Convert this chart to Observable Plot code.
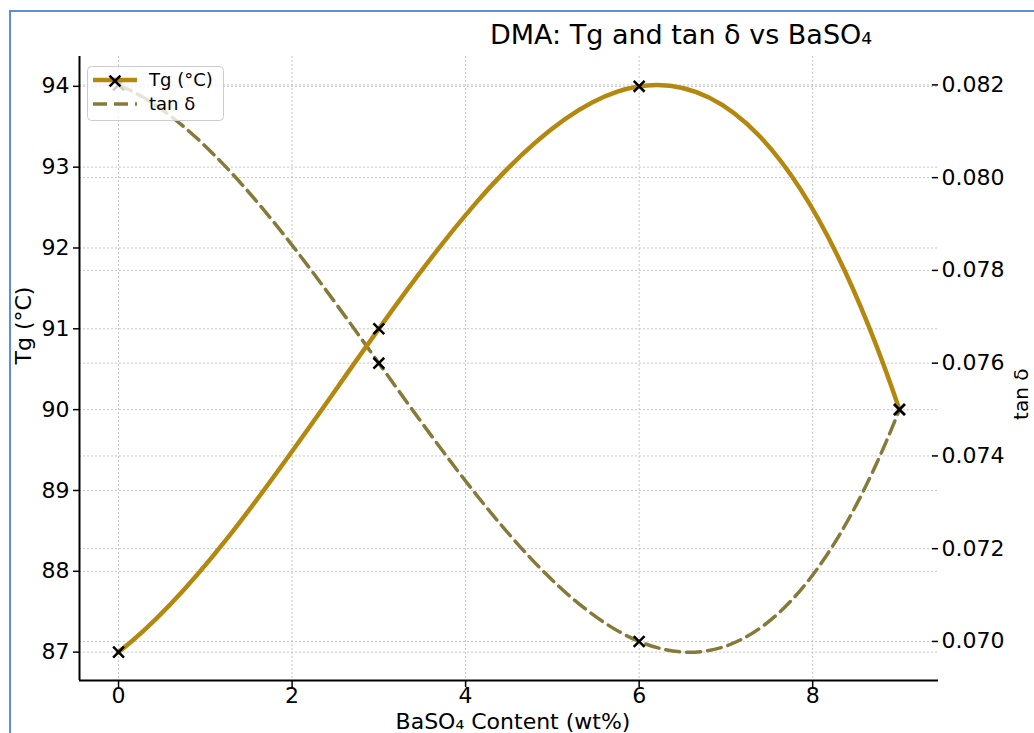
<!DOCTYPE html>
<html>
<head>
<meta charset="utf-8">
<script src="https://cdn.jsdelivr.net/npm/d3@7"></script>
<script src="https://cdn.jsdelivr.net/npm/@observablehq/plot@0.6"></script>
<style>
  html, body { margin: 0; padding: 0; background: white; }
  #wrap { position: relative; width: 1034px; height: 733px; overflow: hidden; font-family: "DejaVu Sans", sans-serif; }
  #legend { position: absolute; left: 87px; top: 66px; }
  #frame { position: absolute; left: 9px; top: 10px; right: -5px; bottom: -5px;
           border-left: 2px solid #5b8fd9; border-top: 2px solid #5b8fd9; pointer-events: none; }
</style>
</head>
<body>
<div id="wrap">
  <div id="chart"></div>
  <div id="legend"></div>
  <div id="frame"></div>
</div>
<script>
// ---- data ----
const baso4 = [0, 3, 6, 9];                 // BaSO4 content (wt%)
const tg = [87, 91, 94, 90];                // Tg (°C)
const tanDelta = [0.082, 0.076, 0.070, 0.075];
const xTicks = [0, 2, 4, 6, 8];
const tgTicks = [87, 88, 89, 90, 91, 92, 93, 94];
const tanTicks = [0.070, 0.072, 0.074, 0.076, 0.078, 0.080, 0.082];

// axis limits
const xDomain = [-0.45, 9.45];
const tgDomain = [86.649, 94.369];
const tanDomain = [0.069158, 0.082612];

const tgColor = "#b4880f";
const tanColor = "#857a3a";

// map tan δ onto the Tg (left) scale for the twin axis
const k = (tgDomain[1] - tgDomain[0]) / (tanDomain[1] - tanDomain[0]);
const toTg = v => tgDomain[0] + (v - tanDomain[0]) * k;
const fromTg = v => tanDomain[0] + (v - tgDomain[0]) / k;

const tgRows = baso4.map((x, i) => ({x, y: tg[i]}));
const tanRows = baso4.map((x, i) => ({x, y: toTg(tanDelta[i])}));

// cubic interpolating curve (single cubic through 4 points, like a k=3 spline)
function curveCubic(context) {
  let pts;
  return {
    areaStart() {}, areaEnd() {},
    lineStart() { pts = []; },
    point(x, y) { pts.push([+x, +y]); },
    lineEnd() {
      const n = pts.length;
      if (!n) return;
      context.moveTo(pts[0][0], pts[0][1]);
      if (n === 4) {
        const L = (x) => {
          let s = 0;
          for (let i = 0; i < 4; i++) {
            let t = pts[i][1];
            for (let j = 0; j < 4; j++) if (j !== i) t *= (x - pts[j][0]) / (pts[i][0] - pts[j][0]);
            s += t;
          }
          return s;
        };
        const x0 = pts[0][0], x3 = pts[3][0], y0 = pts[0][1], y3 = pts[3][1];
        const Y1 = L(x0 + (x3 - x0) / 3), Y2 = L(x0 + 2 * (x3 - x0) / 3);
        const A = 27 * Y1 - 8 * y0 - y3, B = 27 * Y2 - y0 - 8 * y3;
        const c1 = (2 * A - B) / 18, c2 = (2 * B - A) / 18;
        context.bezierCurveTo(x0 + (x3 - x0) / 3, c1, x0 + 2 * (x3 - x0) / 3, c2, x3, y3);
      } else {
        for (let i = 1; i < n; i++) context.lineTo(pts[i][0], pts[i][1]);
      }
    }
  };
}

const gridStyle = {stroke: "#c0c0c0", strokeOpacity: 0.9, strokeWidth: 1, strokeDasharray: "2,2"};

const chart = Plot.plot({
  width: 1034,
  height: 733,
  marginLeft: 79,
  marginRight: 96,
  marginTop: 56,
  marginBottom: 53,
  style: {fontFamily: "'DejaVu Sans', sans-serif", fontSize: "22px", background: "transparent", color: "black"},
  x: {domain: xDomain},
  y: {domain: tgDomain},
  marks: [
    Plot.gridX(xTicks, gridStyle),
    Plot.gridY(tgTicks, gridStyle),
    Plot.gridY(tanTicks.map(toTg), gridStyle),
    Plot.axisX(xTicks, {tickSize: 7, tickPadding: 0, fontSize: 22, label: null, tickFormat: d => String(d), strokeWidth: 1.5}),
    Plot.axisY(tgTicks, {anchor: "left", tickSize: 6, tickPadding: 4, fontSize: 22, label: null, tickFormat: d => String(d), strokeWidth: 1.5}),
    Plot.axisY(tanTicks.map(toTg), {anchor: "right", tickSize: 6, tickPadding: 4, fontSize: 22, label: null, dx: -7,
      tickFormat: v => fromTg(v).toFixed(3), strokeWidth: 1.5}),
    Plot.ruleX([xDomain[0]], {stroke: "black", strokeWidth: 2}),
    Plot.ruleY([tgDomain[0]], {stroke: "black", strokeWidth: 2}),
    Plot.line(tanRows, {x: "x", y: "y", curve: curveCubic, stroke: tanColor, strokeWidth: 3.5, strokeDasharray: "14,7"}),
    Plot.line(tgRows, {x: "x", y: "y", curve: curveCubic, stroke: tgColor, strokeWidth: 4.5}),
    Plot.dot(tgRows.concat(tanRows), {x: "x", y: "y", symbol: "times", r: 5, stroke: "black", strokeWidth: 2.5}),
    Plot.text(["DMA: Tg and tan δ vs BaSO₄"], {text: d => d, frameAnchor: "top", lineAnchor: "middle", dx: 172, dy: -21, fontSize: 27, fill: "black", letterSpacing: "1.5px"}),
    Plot.text(["BaSO₄ Content (wt%)"], {text: d => d, frameAnchor: "bottom", lineAnchor: "middle", dx: 4, dy: 41, fontSize: 22, fill: "black"}),
    Plot.text(["Tg (°C)"], {text: d => d, frameAnchor: "left", lineAnchor: "middle", dx: -56, dy: -4, rotate: -90, fontSize: 22, fill: "black"}),
    Plot.text(["tan δ"], {text: d => d, frameAnchor: "right", lineAnchor: "middle", dx: 83, rotate: -90, fontSize: 20, fill: "black"})
  ]
});
document.getElementById("chart").appendChild(chart);

// legend
const lg = d3.select("#legend").append("svg").attr("width", 138).attr("height", 56);
lg.append("rect").attr("x", 0.5).attr("y", 0.5).attr("width", 136).attr("height", 54).attr("rx", 4)
  .attr("fill", "rgba(255,255,255,0.8)").attr("stroke", "#cccccc");
lg.append("line").attr("x1", 6).attr("x2", 50).attr("y1", 14).attr("y2", 14)
  .attr("stroke", tgColor).attr("stroke-width", 4.5);
lg.append("path").attr("d", d3.symbol(d3.symbolTimes, 80)()).attr("transform", "translate(28,15)")
  .attr("fill", "none").attr("stroke", "black").attr("stroke-width", 2.5);
lg.append("line").attr("x1", 6).attr("x2", 50).attr("y1", 38).attr("y2", 38)
  .attr("stroke", tanColor).attr("stroke-width", 3.5).attr("stroke-dasharray", "14,7");
lg.append("text").attr("x", 62).attr("y", 14).attr("dy", "0.35em").attr("font-size", 18)
  .attr("font-family", "DejaVu Sans").text("Tg (°C)");
lg.append("text").attr("x", 62).attr("y", 38).attr("dy", "0.35em").attr("font-size", 18)
  .attr("font-family", "DejaVu Sans").text("tan δ");
</script>
</body>
</html>
